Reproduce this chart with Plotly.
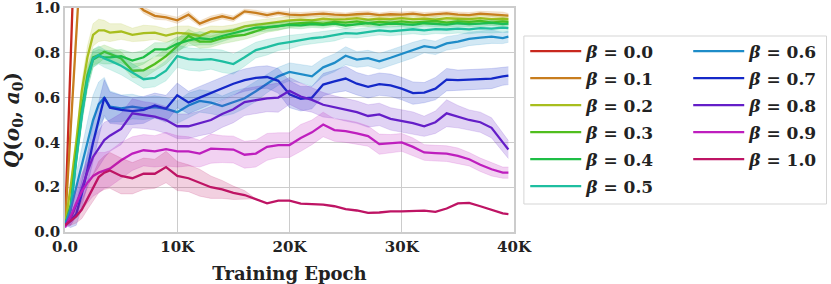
import plotly.graph_objects as go

# x positions (training epochs)
EPOCHS = [0, 500, 1000, 1500, 2000, 2500, 3000, 3500, 4000] + list(range(5000, 40000, 1000)) + [39500]

BETA_LABELS = ["0.0", "0.1", "0.2", "0.3", "0.4", "0.5", "0.6", "0.7", "0.8", "0.9", "1.0"]
COLORS = ["#c8281e", "#c87d1e", "#a8be1e", "#50be1e", "#1ebe46", "#1ebea0",
          "#1e8cc8", "#1428c8", "#641ec8", "#be1ebe", "#be1464"]

# mean Q(o0,a0) per beta (values above 1.0 run off the top of the chart)
q_b00 = [0.03, 0.76, 1.5, 2.0, 2.5, 3.0, 3.0, 3.0, 3.0] + [3.0] * 35 + [3.0]
q_b01 = [0.03, 0.44, 0.85, 1.3, 1.6, 1.6, 1.5, 1.4, 1.3,
         1.15, 1.04, 0.99, 0.965, 0.958, 0.945, 0.97, 0.93, 0.95, 0.963, 0.952,
         0.985, 0.978, 0.968, 0.978, 0.97, 0.968, 0.972, 0.975, 0.97, 0.968,
         0.972, 0.975, 0.968, 0.972, 0.97, 0.975, 0.968, 0.972, 0.976, 0.97,
         0.968, 0.975, 0.972, 0.97, 0.966]
q_b02 = [0.03, 0.2, 0.4, 0.63, 0.78, 0.88, 0.9, 0.9, 0.89,
         0.895, 0.88, 0.888, 0.89, 0.877, 0.889, 0.885, 0.875, 0.895, 0.893,
         0.9, 0.918, 0.925, 0.932, 0.94, 0.945, 0.948, 0.945, 0.952, 0.948,
         0.95, 0.955, 0.948, 0.952, 0.95, 0.955, 0.95, 0.953, 0.948, 0.955,
         0.952, 0.95, 0.955, 0.95, 0.952, 0.95]
q_b03 = [0.03, 0.12, 0.35, 0.55, 0.7, 0.78, 0.79, 0.805, 0.795,
         0.775, 0.72, 0.722, 0.75, 0.785, 0.83, 0.875, 0.85, 0.85, 0.865,
         0.875, 0.88, 0.895, 0.912, 0.918, 0.928, 0.932, 0.935, 0.93, 0.938,
         0.935, 0.94, 0.932, 0.938, 0.935, 0.94, 0.935, 0.938, 0.942, 0.935,
         0.94, 0.938, 0.942, 0.935, 0.94, 0.938]
q_b04 = [0.03, 0.1, 0.33, 0.53, 0.68, 0.77, 0.785, 0.78, 0.78,
         0.785, 0.765, 0.78, 0.815, 0.815, 0.84, 0.855, 0.865, 0.86, 0.875,
         0.888, 0.9, 0.912, 0.915, 0.92, 0.925, 0.922, 0.928, 0.925, 0.93,
         0.922, 0.928, 0.932, 0.925, 0.93, 0.928, 0.925, 0.932, 0.93, 0.926,
         0.932, 0.928, 0.93, 0.935, 0.928, 0.93]
q_b05 = [0.03, 0.1, 0.32, 0.52, 0.68, 0.775, 0.79, 0.775, 0.765,
         0.742, 0.712, 0.682, 0.688, 0.72, 0.785, 0.772, 0.768, 0.772, 0.762,
         0.75, 0.78, 0.812, 0.825, 0.84, 0.848, 0.858, 0.865, 0.87, 0.878,
         0.888, 0.886, 0.893, 0.9, 0.896, 0.9, 0.905, 0.9, 0.906, 0.904,
         0.908, 0.905, 0.91, 0.908, 0.912, 0.91]
q_b06 = [0.03, 0.1, 0.2, 0.3, 0.4, 0.5, 0.57, 0.6, 0.56,
         0.552, 0.56, 0.552, 0.558, 0.55, 0.535, 0.565, 0.585, 0.578, 0.562,
         0.578, 0.597, 0.628, 0.662, 0.695, 0.715, 0.706, 0.695, 0.735, 0.755,
         0.787, 0.77, 0.776, 0.762, 0.778, 0.795, 0.812, 0.83, 0.822, 0.842,
         0.85, 0.862, 0.868, 0.872, 0.866, 0.872]
q_b07 = [0.03, 0.05, 0.08, 0.17, 0.28, 0.4, 0.5, 0.6, 0.555,
         0.545, 0.54, 0.545, 0.565, 0.55, 0.61, 0.578, 0.6, 0.62, 0.64,
         0.662, 0.678, 0.688, 0.692, 0.675, 0.615, 0.595, 0.6, 0.658, 0.672,
         0.685, 0.662, 0.648, 0.66, 0.655, 0.64, 0.62, 0.622, 0.64, 0.68,
         0.678, 0.68, 0.682, 0.685, 0.695, 0.698]
q_b08 = [0.03, 0.06, 0.12, 0.2, 0.27, 0.335, 0.37, 0.41, 0.43,
         0.46, 0.53, 0.522, 0.515, 0.5, 0.472, 0.472, 0.485, 0.5, 0.527,
         0.548, 0.58, 0.59, 0.597, 0.6, 0.63, 0.605, 0.59, 0.568, 0.558,
         0.545, 0.535, 0.518, 0.525, 0.505, 0.495, 0.486, 0.472, 0.49, 0.53,
         0.515, 0.5, 0.49, 0.465, 0.4, 0.368]
q_b09 = [0.02, 0.07, 0.13, 0.18, 0.22, 0.25, 0.265, 0.275, 0.283,
         0.32, 0.35, 0.365, 0.36, 0.37, 0.36, 0.36, 0.35, 0.372, 0.37,
         0.368, 0.345, 0.35, 0.38, 0.388, 0.388, 0.42, 0.445, 0.48, 0.455,
         0.45, 0.44, 0.428, 0.392, 0.395, 0.4, 0.38, 0.355, 0.352, 0.35,
         0.34, 0.325, 0.3, 0.28, 0.265, 0.265]
q_b10 = [0.03, 0.05, 0.07, 0.1, 0.15, 0.2, 0.245, 0.265, 0.275,
         0.25, 0.24, 0.26, 0.26, 0.29, 0.25, 0.24, 0.22, 0.2, 0.19,
         0.175, 0.165, 0.148, 0.128, 0.14, 0.14, 0.127, 0.125, 0.122, 0.115,
         0.102, 0.096, 0.085, 0.087, 0.092, 0.092, 0.092, 0.095, 0.09, 0.105,
         0.128, 0.13, 0.115, 0.1, 0.083, 0.08]

# half-width of the shaded band per beta
w_b00 = [0.0] * 45
w_b01 = [0.0, 0.01, 0.01, 0.01, 0.01, 0.012, 0.012, 0.012, 0.012,
         0.012, 0.012, 0.014, 0.015, 0.012, 0.014, 0.015, 0.012, 0.014, 0.012,
         0.012, 0.01, 0.012, 0.012, 0.01, 0.012, 0.012, 0.01, 0.012, 0.012,
         0.01, 0.012, 0.012, 0.01, 0.012, 0.012, 0.01, 0.012, 0.012, 0.01,
         0.012, 0.012, 0.01, 0.012, 0.012, 0.01]
w_b02 = [0.0, 0.02, 0.03, 0.04, 0.05, 0.05, 0.05, 0.045, 0.04,
         0.035, 0.03, 0.035, 0.03, 0.03, 0.03, 0.035, 0.03, 0.025, 0.025,
         0.025, 0.02, 0.02, 0.02, 0.018, 0.018, 0.015, 0.015, 0.015, 0.015,
         0.015, 0.015, 0.015, 0.015, 0.015, 0.015, 0.015, 0.015, 0.015, 0.015,
         0.015, 0.015, 0.015, 0.015, 0.015, 0.015]
w_b03 = [0.0, 0.02, 0.03, 0.04, 0.04, 0.035, 0.035, 0.03, 0.03,
         0.03, 0.03, 0.035, 0.03, 0.035, 0.03, 0.03, 0.03, 0.025, 0.025,
         0.025, 0.02, 0.02, 0.02, 0.018, 0.015, 0.015, 0.015, 0.012, 0.015,
         0.012, 0.012, 0.015, 0.012, 0.012, 0.015, 0.012, 0.012, 0.015, 0.012,
         0.012, 0.015, 0.012, 0.012, 0.015, 0.012]
w_b04 = [0.0, 0.02, 0.03, 0.04, 0.04, 0.035, 0.03, 0.03, 0.03,
         0.03, 0.035, 0.03, 0.03, 0.03, 0.03, 0.025, 0.03, 0.025, 0.025,
         0.02, 0.02, 0.02, 0.018, 0.018, 0.015, 0.015, 0.015, 0.015, 0.012,
         0.015, 0.012, 0.015, 0.012, 0.015, 0.012, 0.015, 0.012, 0.015, 0.012,
         0.015, 0.012, 0.015, 0.012, 0.015, 0.012]
w_b05 = [0.0, 0.02, 0.03, 0.04, 0.04, 0.04, 0.04, 0.04, 0.04,
         0.04, 0.04, 0.04, 0.04, 0.045, 0.05, 0.05, 0.05, 0.045, 0.05,
         0.045, 0.04, 0.035, 0.035, 0.03, 0.03, 0.025, 0.025, 0.025, 0.025,
         0.02, 0.02, 0.02, 0.02, 0.02, 0.02, 0.02, 0.02, 0.02, 0.02,
         0.02, 0.02, 0.02, 0.02, 0.02, 0.02]
w_b06 = [0.0, 0.03, 0.06, 0.08, 0.1, 0.11, 0.1, 0.09, 0.07,
         0.06, 0.055, 0.05, 0.05, 0.05, 0.05, 0.055, 0.05, 0.05, 0.045,
         0.05, 0.045, 0.045, 0.04, 0.04, 0.04, 0.04, 0.045, 0.04, 0.04,
         0.04, 0.035, 0.035, 0.035, 0.035, 0.035, 0.035, 0.03, 0.03, 0.03,
         0.03, 0.03, 0.03, 0.03, 0.025, 0.025]
w_b07 = [0.0, 0.03, 0.05, 0.06, 0.07, 0.08, 0.08, 0.08, 0.07,
         0.065, 0.06, 0.06, 0.055, 0.06, 0.055, 0.05, 0.05, 0.05, 0.05,
         0.05, 0.05, 0.05, 0.05, 0.055, 0.06, 0.055, 0.05, 0.05, 0.05,
         0.055, 0.05, 0.05, 0.05, 0.05, 0.05, 0.05, 0.045, 0.05, 0.05,
         0.045, 0.045, 0.045, 0.045, 0.04, 0.04]
w_b08 = [0.0, 0.03, 0.05, 0.06, 0.07, 0.08, 0.08, 0.08, 0.07,
         0.07, 0.065, 0.06, 0.06, 0.06, 0.055, 0.055, 0.055, 0.06, 0.06,
         0.06, 0.06, 0.06, 0.06, 0.065, 0.06, 0.06, 0.055, 0.055, 0.05,
         0.05, 0.05, 0.05, 0.05, 0.05, 0.05, 0.05, 0.045, 0.05, 0.06,
         0.05, 0.045, 0.045, 0.045, 0.04, 0.04]
w_b09 = [0.0, 0.04, 0.06, 0.08, 0.09, 0.09, 0.09, 0.08, 0.08,
         0.08, 0.075, 0.07, 0.07, 0.075, 0.07, 0.065, 0.06, 0.065, 0.06,
         0.06, 0.06, 0.06, 0.06, 0.055, 0.055, 0.06, 0.055, 0.055, 0.05,
         0.05, 0.05, 0.045, 0.045, 0.04, 0.04, 0.04, 0.035, 0.035, 0.035,
         0.035, 0.03, 0.03, 0.03, 0.025, 0.025]
w_b10 = [0.0, 0.02, 0.03, 0.04, 0.05, 0.06, 0.07, 0.075, 0.08,
         0.08, 0.07, 0.07, 0.065, 0.07, 0.065, 0.06, 0.06, 0.05, 0.04,
         0.03, 0.02, 0.0, 0.0, 0.0, 0.0, 0.0, 0.0, 0.0, 0.0,
         0.0, 0.0, 0.0, 0.0, 0.0, 0.0, 0.0, 0.0, 0.0, 0.0,
         0.0, 0.0, 0.0, 0.0, 0.0, 0.0]

MEANS = [q_b00, q_b01, q_b02, q_b03, q_b04, q_b05, q_b06, q_b07, q_b08, q_b09, q_b10]
WIDTHS = [w_b00, w_b01, w_b02, w_b03, w_b04, w_b05, w_b06, w_b07, w_b08, w_b09, w_b10]

X_TICKS = [0, 10000, 20000, 30000, 40000]
X_TICKTEXT = ["0.0", "10K", "20K", "30K", "40K"]
Y_TICKS = [0.0, 0.2, 0.4, 0.6, 0.8, 1.0]
Y_TICKTEXT = ["0.0", "0.2", "0.4", "0.6", "0.8", "1.0"]


def rgba(hex_color, a):
    h = hex_color.lstrip("#")
    r, g, b = int(h[0:2], 16), int(h[2:4], 16), int(h[4:6], 16)
    return f"rgba({r},{g},{b},{a})"


FONT = "DejaVu Serif"
fig = go.Figure()

for i, (lab, col, m, w) in enumerate(zip(BETA_LABELS, COLORS, MEANS, WIDTHS)):
    if any(v > 0 for v in w):
        upper = [a + b for a, b in zip(m, w)]
        lower = [a - b for a, b in zip(m, w)]
        fig.add_trace(go.Scatter(x=EPOCHS, y=upper, mode="lines", line=dict(width=0.6, color=rgba(col, 0.25)),
                                 showlegend=False, hoverinfo="skip"))
        fig.add_trace(go.Scatter(x=EPOCHS, y=lower, mode="lines", line=dict(width=0.6, color=rgba(col, 0.25)),
                                 fill="tonexty", fillcolor=rgba(col, 0.2),
                                 showlegend=False, hoverinfo="skip"))
    fig.add_trace(go.Scatter(
        x=EPOCHS, y=m, mode="lines", line=dict(color=col, width=2.3),
        name=f"<i>β</i> = {lab}", legendgroup=f"g{i}",
        legend="legend" if i < 6 else "legend2",
    ))

legend_common = dict(
    font=dict(family=FONT, size=17, color="#222222", weight="bold"),
    bgcolor="rgba(0,0,0,0)", borderwidth=0, tracegroupgap=1.9,
    xanchor="left", yanchor="top", itemwidth=51,
)

fig.update_layout(
    width=831, height=284,
    margin=dict(l=65, r=315, t=8, b=52),
    plot_bgcolor="white", paper_bgcolor="white",
    font=dict(family=FONT, color="#222222"),
    xaxis=dict(range=[0, 40000], tickvals=X_TICKS, ticktext=X_TICKTEXT, automargin=False,
               showgrid=True, gridcolor="#cccccc", gridwidth=1,
               showline=True, linecolor="#cccccc", linewidth=1.5, mirror=True,
               zeroline=False, ticks="", ticklabeloverflow="allow",
               tickfont=dict(family=FONT, size=15, color="#222222", weight="bold"),
               title=dict(text="Training Epoch", standoff=13,
                          font=dict(family=FONT, size=18, color="#222222", weight="bold"))),
    yaxis=dict(range=[0, 1.0], tickvals=Y_TICKS, ticktext=Y_TICKTEXT, automargin=False,
               showgrid=True, gridcolor="#cccccc", gridwidth=1,
               showline=True, linecolor="#cccccc", linewidth=1.5, mirror=True,
               zeroline=False, ticks="", ticklabeloverflow="allow",
               tickfont=dict(family=FONT, size=15, color="#222222", weight="bold"),
               title=dict(text="<i>Q</i>(<i>o</i><sub>0</sub>, <i>a</i><sub>0</sub>)", standoff=10,
                          font=dict(family=FONT, size=20, color="#222222", weight="bold"))),
    legend=dict(x=1.025, y=0.886, **legend_common),
    legend2=dict(x=1.388, y=0.886, **legend_common),
    shapes=[dict(type="rect", xref="paper", yref="paper",
                 x0=1.022, x1=1.696, y0=0.125, y1=0.875,
                 line=dict(color="#d5d5d5", width=1), fillcolor="rgba(0,0,0,0)")],
)

fig.write_html("out.html", config={"displayModeBar": False},
               post_script="document.body.style.margin='0';")
